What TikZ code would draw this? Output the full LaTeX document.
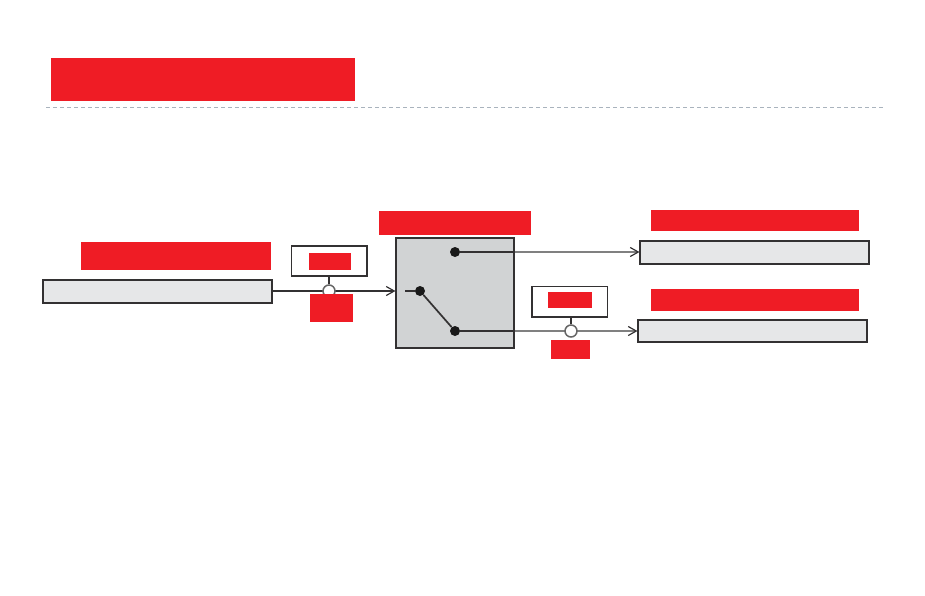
\documentclass[tikz,border=0pt]{standalone}
\usepackage{tikz}
\usetikzlibrary{arrows.meta}
\definecolor{patchred}{HTML}{EF1C25}
\definecolor{boxgray}{HTML}{E6E7E8}
\definecolor{switchgray}{HTML}{D1D3D4}
\definecolor{wiredark}{HTML}{333132}
\definecolor{rulegray}{HTML}{A9B3BD}
\tikzset{
    patch/.style={fill=patchred, inner sep=0pt, outer sep=0pt},
    fieldbox/.style={draw=wiredark, fill=boxgray, line width=1.1pt, inner sep=0pt},
    gaugebox/.style={draw=wiredark, fill=white, line width=1.5pt, inner sep=0pt},
    tap/.style={circle, draw=black!60, fill=white, line width=1.5pt, minimum size=12pt, inner sep=0pt},
    contact/.style={circle, fill=black!90, minimum size=10pt, inner sep=0pt},
    wire/.style={draw=wiredark, line width=1.7pt},
    outwire/.style={draw=black!50, line width=1.6pt, -{Straight Barb[length=8pt,width=9pt,color=wiredark,line width=1.2pt]}}
}
\begin{document}
\begin{tikzpicture}[x=1pt, y=-1pt]
    \useasboundingbox (0,0) rectangle (925,595);
    % heading and rule
    \node[patch, minimum width=304pt, minimum height=43pt] (title) at (203,79.5) {};
    \coordinate (ruleL) at (46,107.5);
    \coordinate (ruleR) at (884,107.5);
    \draw[rulegray, line width=0.8pt, dash pattern=on 4pt off 3pt] (ruleL) -- (ruleR);
    % boxes
    \node[fieldbox, minimum width=229pt, minimum height=23pt] (inbox) at (157.5,291.5) {};
    \node[fieldbox, fill=switchgray, minimum width=118pt, minimum height=110pt] (switchbox) at (455,293) {};
    \node[fieldbox, minimum width=229pt, minimum height=23pt] (outtop) at (754.5,252.5) {};
    \node[fieldbox, minimum width=229pt, minimum height=22pt] (outbot) at (752.5,331) {};
    \node[gaugebox, minimum width=75.5pt, minimum height=30pt] (gaugeA) at (329,261) {};
    \node[gaugebox, minimum width=75.5pt, minimum height=30.5pt] (gaugeB) at (569.5,301.5) {};
    % contacts
    \node[contact] (pole) at (420,291) {};
    \node[contact] (throwA) at (455,252) {};
    \node[contact] (throwB) at (455,331) {};
    \coordinate (stub) at (405,291);
    \coordinate (edgeA) at (switchbox.east |- throwA);
    \coordinate (edgeB) at (switchbox.east |- throwB);
    % wires
    \draw[outwire, draw=wiredark] (inbox.east |- pole) -- (switchbox.west |- pole);
    \draw[outwire] (edgeA) -- (outtop.west |- edgeA);
    \draw[outwire] (edgeB) -- (outbot.west |- edgeB);
    \draw[wire] (stub) -- (pole);
    \draw[wire] (pole) -- (throwB);
    \draw[wire] (throwA) -- (edgeA);
    \draw[wire] (throwB) -- (edgeB);
    % taps
    \node[tap] (tapA) at (329,291) {};
    \node[tap] (tapB) at (571,331) {};
    \draw[wire] (gaugeA.south -| tapA) -- (tapA);
    \draw[wire] (gaugeB.south -| tapB) -- (tapB);
    % covered labels
    \node[patch, minimum width=152pt, minimum height=24pt] (switchlabel) at (455,223) {};
    \node[patch, minimum width=190pt, minimum height=28pt] (inlabel) at (176,256) {};
    \node[patch, minimum width=208pt, minimum height=21pt] (toplabel) at (755,220.5) {};
    \node[patch, minimum width=208pt, minimum height=22pt] (botlabel) at (755,300) {};
    \node[patch, minimum width=42pt, minimum height=17pt] (gaugelabelA) at (330,261.5) {};
    \node[patch, minimum width=43pt, minimum height=28pt] (taplabelA) at (331.5,308) {};
    \node[patch, minimum width=44pt, minimum height=16pt] (gaugelabelB) at (570,300) {};
    \node[patch, minimum width=39pt, minimum height=19pt] (taplabelB) at (570.5,349.5) {};
\end{tikzpicture}
\end{document}
